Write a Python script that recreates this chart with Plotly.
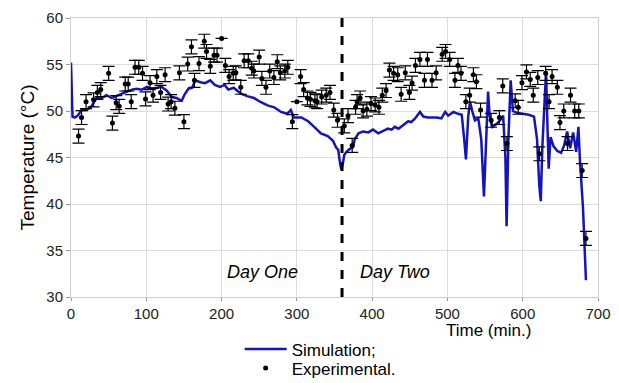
import plotly.graph_objects as go

# Simulation (blue line)
sim_t = [0, 2, 5, 9, 14, 21, 27, 34, 41, 47, 54, 60, 68, 74, 81, 87, 94, 101, 107, 114,
         120, 127, 134, 140, 147, 151, 156, 161, 165, 172, 178, 185, 191, 198, 204, 209, 216, 225, 234, 243,
         251, 261, 270, 279, 287, 292, 296, 306, 315, 323, 332, 341, 348, 352, 355, 357, 359, 361, 363, 366,
         370, 374.5, 377, 382, 388, 395, 401, 408, 414, 421, 426, 430, 435, 440, 443.5, 448, 452, 457, 463.5, 468,
         474, 480, 486, 492, 497, 501, 508, 514, 519, 522, 524.6, 527.6, 530, 533, 536.5, 541, 545, 548.5, 552, 554,
         556, 560, 565, 570, 574, 577, 578.6, 581, 584, 587, 592, 600, 608, 615, 619, 622, 624, 626, 629, 631,
         633, 634.5, 637, 641, 646, 651, 655, 659, 663, 667, 671, 674, 676, 680, 684]
sim_T = [55.2, 49.4, 49.3, 49.5, 50.1, 50.1, 50.5, 51.4, 51.4, 51.7, 51.4, 51.6, 51.9, 52.1, 52.3, 52.4, 52.3, 52.6, 52.4, 52.5,
         52.6, 52.2, 51.5, 51.4, 51.1, 51.8, 52.4, 52.5, 53.3, 53.1, 53.0, 53.3, 52.8, 52.6, 52.8, 52.3, 52.5, 51.9, 51.6, 51.4,
         51.0, 50.6, 50.4, 49.9, 49.7, 50.1, 49.3, 49.3, 48.9, 48.3, 47.6, 47.3, 46.8, 46.1, 45.8, 44.6, 43.7, 44.3, 45.3, 45.6,
         45.9, 46.1, 47.0, 47.6, 47.8, 47.7, 48.0, 47.6, 47.8, 48.1, 48.0, 48.3, 48.1, 48.4, 48.7, 48.9, 48.8, 49.2, 49.9, 49.4,
         49.3, 49.3, 49.3, 49.2, 49.9, 49.5, 49.9, 49.7, 49.6, 47.2, 44.8, 49.4, 51.0, 50.0, 49.0, 49.2, 46.9, 40.8, 48.0, 52.1,
         49.5, 48.3, 48.6, 49.0, 49.5, 45.0, 37.6, 47.0, 53.3, 50.0, 49.8, 49.7, 49.6, 49.4, 47.0, 42.0, 40.3, 46.0, 51.0, 54.3,
         48.0, 43.8, 47.2, 46.2, 45.7, 45.5, 46.3, 47.8, 46.0, 47.7, 45.6, 48.3, 44.7, 39.7, 31.8]

# Experimental (points with error bars)
exp_t = [10, 14, 20, 30, 35, 39.5, 50, 55, 60, 64, 72, 76, 80, 85, 90, 95, 99, 105, 109, 114,
         119, 125, 129, 133, 138, 144, 150, 155, 160, 164, 170, 177, 180, 185, 190, 194, 200, 205, 210, 215.5,
         219, 225.5, 230, 235.5, 240, 243, 250, 253.5, 259, 264, 269.5, 274, 278, 284, 288, 294, 300, 305, 309, 314,
         318, 324, 327, 333, 339, 344, 349, 354, 363, 368, 373.5, 378, 380, 384, 388, 393, 398.5, 404, 409, 413.5,
         418.5, 423, 428.5, 434, 438.5, 444, 449.5, 453, 457.5, 463.5, 469.5, 473.5, 479.5, 485, 493, 497.5, 503, 510, 514, 518,
         524.5, 529.5, 534.5, 538.5, 544, 558, 569, 573.5, 579, 590, 594, 599, 605, 610, 614, 620, 622, 630.5, 635, 639,
         646, 649.5, 654.5, 659.5, 663.5, 669, 674.5, 679, 684]
exp_T = [47.3, 49.3, 51.0, 51.2, 52.0, 52.3, 54.05, 48.7, 50.9, 50.5, 52.9, 52.9, 51.0, 54.7, 54.7, 54.05, 51.3, 53.05, 51.7, 53.7,
         52.0, 53.9, 50.75, 51.0, 50.3, 54.1, 48.85, 55.05, 56.9, 53.3, 55.1, 57.5, 56.4, 54.8, 56.0, 56.0, 57.8, 54.9, 53.7, 54.05,
         54.1, 52.55, 55.4, 55.4, 54.6, 54.3, 55.8, 53.5, 52.55, 54.3, 53.6, 55.3, 54.1, 54.3, 54.7, 48.85, 51.0, 53.7, 52.3, 51.4,
         51.25, 51.1, 51.0, 51.5, 51.7, 52.0, 50.1, 49.0, 48.4, 49.5, 46.3, 50.4, 51.0, 51.4, 50.0, 50.2, 50.8, 50.65, 50.4, 51.7,
         52.2, 54.4, 54.05, 53.9, 51.8, 54.1, 52.0, 53.0, 54.9, 55.55, 53.3, 55.55, 53.3, 54.1, 56.1, 56.4, 55.55, 53.3, 54.9, 54.05,
         51.0, 51.7, 53.9, 53.15, 50.1, 49.0, 49.3, 52.7, 46.5, 51.1, 50.4, 53.05, 54.2, 53.4, 51.7, 53.6, 45.4, 54.05, 51.0, 53.7,
         52.55, 48.75, 50.0, 46.5, 51.7, 50.0, 50.0, 43.6, 36.3]
exp_err = [0.75] * len(exp_t)
exp_err[exp_t.index(200)] = 0
exp_err[exp_t.index(300)] = 0

x_ticks = [0, 100, 200, 300, 400, 500, 600, 700]
y_ticks = [30, 35, 40, 45, 50, 55, 60]
day_split = 360

FONT = "Liberation Sans, Arial"

fig = go.Figure()
fig.add_trace(go.Scatter(
    x=sim_t, y=sim_T, mode="lines", name="Simulation;", legend="legend",
    line=dict(color="#1414bf", width=2.5),
))
fig.add_trace(go.Scatter(
    x=exp_t, y=exp_T, mode="markers", name="Experimental.", legend="legend2",
    marker=dict(color="black", size=5),
    error_y=dict(type="data", array=exp_err, visible=True, color="black", thickness=1.2, width=6),
))

fig.add_shape(type="line", x0=day_split, x1=day_split, y0=30, y1=60, xref="x", yref="y",
              line=dict(color="black", width=3, dash="dash"))

fig.add_annotation(x=255, y=32.7, xref="x", yref="y", text="<i>Day One</i>", showarrow=False,
                   font=dict(size=18, color="black", family=FONT))
fig.add_annotation(x=430, y=32.7, xref="x", yref="y", text="<i>Day Two</i>", showarrow=False,
                   font=dict(size=18, color="black", family=FONT))
fig.add_annotation(x=555, y=0, xref="x", yref="paper", yanchor="middle", yshift=-33,
                   text="Time (min.)", showarrow=False,
                   font=dict(size=17, color="black", family=FONT))

legend_common = dict(xanchor="left", yanchor="top", orientation="v",
                     font=dict(size=17, color="black", family=FONT), itemwidth=42,
                     bgcolor="rgba(0,0,0,0)", borderwidth=0)

fig.update_layout(
    width=619, height=383,
    margin=dict(l=71, r=21, t=18, b=86, autoexpand=False),
    paper_bgcolor="white", plot_bgcolor="white",
    font=dict(family=FONT, color="black"),
    showlegend=True,
    legend=dict(x=0.32, y=-0.1235, **legend_common),
    legend2=dict(x=0.32, y=-0.192, **legend_common),
    xaxis=dict(range=[0, 700], tickvals=x_ticks, showgrid=True, gridcolor="#dcdcdc", gridwidth=1,
               zeroline=False, showline=True, linecolor="#cfcfcf", mirror=True,
               ticks="outside", ticklen=3, tickcolor="#999999",
               tickfont=dict(size=15, color="#222222")),
    yaxis=dict(range=[30, 60], tickvals=y_ticks, showgrid=True, gridcolor="#dcdcdc", gridwidth=1,
               zeroline=False, showline=True, linecolor="#cfcfcf", mirror=True,
               ticks="outside", ticklen=4, tickcolor="#999999",
               tickfont=dict(size=15, color="#222222"),
               title=dict(text="Temperature (°C)", font=dict(size=19, color="black"), standoff=6)),
)

fig.write_html("out.html")
